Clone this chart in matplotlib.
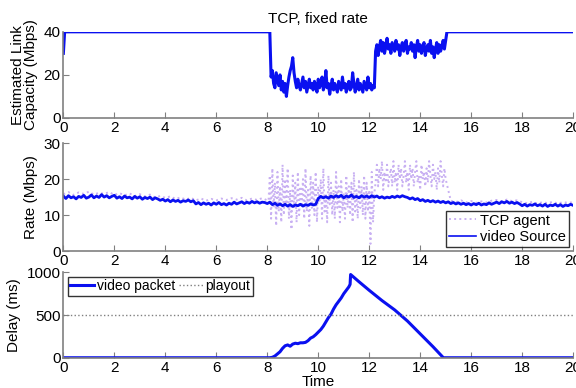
import numpy as np
import matplotlib

matplotlib.use("Agg")
import matplotlib.pyplot as plt

BLUE = "#0a10f0"
PURPLE = "#c8b0f2"
GREY = "#808080"

# --- top panel: estimated link capacity (Mbps) ---
cap_start = [30, 40, 40]          # t = 0, 0.05, 8.1
cap_start_t = [0.0, 0.05, 8.1]
cap_low = [19, 22, 16, 14, 21, 18, 15, 20, 13, 17, 12, 16, 10, 15, 19, 22, 24, 28, 21, 17,
           14, 18, 15, 13, 16, 19, 14, 17, 12, 15, 18, 14, 16, 13, 17, 15, 12, 18, 14, 16,
           19, 13, 15, 22, 14, 16, 11, 15, 18, 13, 16, 14, 12, 17, 15, 13, 19, 14, 16, 12,
           15, 17, 13, 14, 21, 16, 12, 15, 18, 13, 16, 14, 12, 17, 15, 13, 19, 14, 16, 13,
           15, 14]                 # 8.15 .. 12.20
cap_high = [31, 34, 29, 33, 36, 31, 35, 30, 33, 37, 32, 34, 30, 35, 33, 31, 36, 32, 34, 29,
            33, 35, 31, 34, 36, 30, 33, 32, 35, 31, 34, 28, 33, 36, 31, 34, 30, 33, 35, 29,
            32, 34, 31, 36, 30, 33, 28, 32, 35, 30, 34, 31, 33, 36, 32]   # 12.25 .. 14.95
cap_end = [40, 40]
cap_end_t = [15.05, 20.0]

# --- middle panel: rates (Mbps) ---
video_rate = [
    15.3, 14.6, 15.4, 14.8, 15.1, 14.5, 15.2, 14.9, 15.5, 14.7, 15.0, 15.6, 14.8, 15.3, 14.9, 15.7, 15.0, 15.4, 14.8, 15.2,
    15.5, 14.7, 15.1, 14.6, 15.3, 14.8, 15.0, 14.5, 15.2, 14.7, 15.1, 14.4, 14.9, 14.6, 15.0, 14.3, 14.8, 14.5, 14.1, 14.4,
    13.9, 14.3, 13.7, 14.2, 13.8, 14.1, 13.6, 14.0, 13.8, 14.2, 13.7, 14.0, 13.1, 13.5, 12.9, 13.4, 13.0, 13.3, 12.8, 13.4,
    13.0, 13.5, 12.9, 13.2, 12.8, 13.3, 13.0, 13.6, 13.1, 13.4, 13.7, 13.2, 13.6, 13.3, 13.8, 13.4, 13.7, 13.3, 13.6, 13.5,
    13.2, 13.6, 12.9, 13.3, 12.7, 13.1, 12.6, 13.0, 12.5, 12.9, 12.4, 12.8, 12.6, 13.0, 12.5, 12.9, 12.7, 13.1, 12.8, 13.0,
    14.6, 15.2, 14.8, 15.1, 14.7, 15.3, 14.9, 15.4, 15.0, 15.5, 14.8, 15.3, 15.0, 15.6, 14.9, 15.2, 14.8, 15.4, 15.0, 15.3,
    14.9, 15.4, 15.0, 15.3, 14.8, 15.1, 14.7, 15.0, 14.8, 15.2, 14.9, 15.3, 15.0, 15.4, 15.1, 14.9, 14.5, 14.8, 14.3, 14.6,
    14.0, 14.3, 13.8, 14.1, 13.7, 14.0, 13.6, 13.9, 13.5, 13.8, 13.4, 13.7, 13.2, 13.5, 13.1, 13.4, 13.0, 13.3, 12.9, 13.2,
    12.8, 13.2, 12.9, 13.3, 12.8, 13.1, 12.9, 13.4, 13.0, 13.3, 13.6, 13.2, 13.7, 13.4, 13.8, 13.3, 13.6, 13.2, 13.5, 13.1,
    12.6, 13.0, 12.5, 12.9, 12.7, 13.1, 12.6, 12.9, 12.5, 13.0, 12.4, 12.8, 12.6, 13.0, 12.5, 12.9, 12.4, 12.8, 12.6, 13.0,
    12.7]                          # 0 .. 20, step 0.1
tcp_pre = [15.8, 16.4, 15.6, 16.3, 15.9, 16.5, 15.7, 16.2, 15.9, 16.4, 15.6, 16.1, 15.5, 16.0, 15.3, 15.8,
           15.2, 15.7, 14.9, 15.3, 14.8, 15.2, 14.5, 14.9, 14.3, 14.8, 14.1, 14.6, 14.0, 14.5, 14.1, 14.6,
           14.2, 14.7, 14.3, 14.8, 14.1, 14.6, 14.2, 14.7, 14.1]   # 0 .. 8, step 0.2
tcp_mid = [14, 21, 9, 23, 12, 19, 7, 22, 11, 18, 8, 24, 10, 20, 13, 23, 9, 17, 6, 21,
           12, 19, 8, 22, 10, 18, 13, 20, 9, 23, 11, 17, 7, 21, 12, 19, 10, 22, 8, 18,
           14, 20, 9, 23, 11, 16, 8, 21, 13, 19, 10, 17, 9, 22, 12, 18, 8, 20, 11, 16,
           9, 21, 12, 18, 10, 19, 8, 22, 11, 17, 9, 20, 12, 18, 10, 21, 9, 19, 11, 17,
           2, 22, 8, 16,
           19, 24, 18, 23, 20, 25, 17, 22, 19, 24, 18, 21, 23, 18, 25, 19, 22, 17, 24, 20,
           23, 18, 21, 25, 19, 22, 17, 24, 20, 23, 18, 22, 25, 19, 21, 17, 24, 20, 22, 18,
           23, 19, 25, 21, 18, 24, 20, 22, 17, 23, 19, 25, 21, 18, 23, 20]   # 8.05 .. 15.0, step 0.05
tcp_post = [14.0, 13.6, 14.1, 13.5, 13.9, 13.4, 13.8, 13.5, 14.0, 14.2, 13.8, 14.3, 13.9, 14.1,
            13.6, 13.3, 13.7, 13.2, 13.6, 13.3, 13.7, 13.2, 13.6, 13.4, 13.6]   # 15.2 .. 20, step 0.2

# --- bottom panel: delay (ms) ---
delay_t = [0, 8.0, 8.1, 8.2, 8.3, 8.4, 8.5, 8.6, 8.7, 8.8, 8.9, 9.0, 9.1, 9.2, 9.3, 9.4, 9.5,
           9.6, 9.7, 9.8, 9.9, 10.0, 10.1, 10.2, 10.3, 10.4, 10.5, 10.6, 10.7, 10.8, 10.9, 11.0,
           11.1, 11.2, 11.25, 11.27, 11.6, 12.0, 12.5, 13.0, 13.5, 14.0, 14.5, 14.91, 20]
delay_ms = [0, 0, 0, 5, 20, 45, 70, 110, 140, 150, 135, 160, 170, 165, 175, 175, 180,
            200, 230, 245, 270, 300, 330, 370, 420, 470, 510, 570, 620, 660, 700, 750,
            790, 830, 860, 975, 890, 790, 670, 560, 430, 280, 130, 0, 0]
playout_t = [0, 20]
playout_ms = [500, 500]


def style(ax, ylim, yticks):
    ax.set_xlim(0, 20)
    ax.set_ylim(*ylim)
    ax.set_xticks(range(0, 21, 2))
    ax.set_yticks(yticks)
    for s in ("top", "right"):
        ax.spines[s].set_visible(False)
    for s in ("left", "bottom"):
        ax.spines[s].set_color(GREY)
        ax.spines[s].set_linewidth(1.2)
    ax.tick_params(direction="in", length=4, color=GREY, labelsize=11, pad=2)


plt.rcParams["font.family"] = ["Liberation Sans", "DejaVu Sans"]
fig = plt.figure(figsize=(5.76, 3.88), dpi=100)

ax1 = fig.add_axes([0.110, 0.696, 0.885, 0.222])
ax2 = fig.add_axes([0.110, 0.353, 0.885, 0.278])
ax3 = fig.add_axes([0.110, 0.078, 0.885, 0.220])

# top
t_low = 8.15 + 0.05 * np.arange(len(cap_low))
t_high = 12.25 + 0.05 * np.arange(len(cap_high))
cap_t = np.concatenate([cap_start_t, t_low, t_high, cap_end_t])
cap = np.concatenate([cap_start, cap_low, cap_high, cap_end])
ax1.plot(cap_t, cap, color=BLUE, lw=2.2)
style(ax1, (0, 40), [0, 20, 40])
ax1.set_ylabel("Estimated Link\nCapacity (Mbps)", fontsize=11, labelpad=4, linespacing=0.95)
ax1.set_title("TCP, fixed rate", fontsize=11, pad=6)

# middle
t_pre = 0.2 * np.arange(len(tcp_pre))
t_mid = 8.05 + 0.05 * np.arange(len(tcp_mid))
t_post = 15.2 + 0.2 * np.arange(len(tcp_post))
tcp_t = np.concatenate([t_pre, t_mid, t_post])
tcp = np.concatenate([tcp_pre, tcp_mid, tcp_post])
ax2.plot(tcp_t, tcp, color=PURPLE, lw=1.4, ls=":", label="TCP agent")
video_t = 0.1 * np.arange(len(video_rate))
ax2.plot(video_t, video_rate, color=BLUE, lw=2.0, label="video Source")
style(ax2, (0, 30), [0, 10, 20, 30])
ax2.set_ylabel("Rate (Mbps)", fontsize=11, labelpad=4)
leg2 = ax2.legend(loc="lower right", fontsize=10.5, frameon=True, fancybox=False,
                  edgecolor="black", borderpad=0.2, handlelength=1.8, handletextpad=0.3,
                  labelspacing=0.15, borderaxespad=0.3)
leg2.get_frame().set_linewidth(1.0)
leg2.get_lines()[1].set_linewidth(1.2)

# bottom
ax3.plot(delay_t, delay_ms, color=BLUE, lw=2.2, label="video packet")
ax3.plot(playout_t, playout_ms, color=GREY, lw=1.0, ls=":", label="playout")
style(ax3, (0, 1000), [0, 500, 1000])
ax3.set_ylabel("Delay (ms)", fontsize=11, labelpad=4)
ax3.set_xlabel("Time", fontsize=11, labelpad=0)
leg3 = ax3.legend(loc="upper left", ncol=2, fontsize=10, frameon=True, fancybox=False,
                  edgecolor="black", borderpad=0.2, handlelength=1.7, handletextpad=0.2,
                  columnspacing=0.3, borderaxespad=0.3)
leg3.get_frame().set_linewidth(1.0)

fig.savefig("out.png", dpi=100)
plt.close(fig)
